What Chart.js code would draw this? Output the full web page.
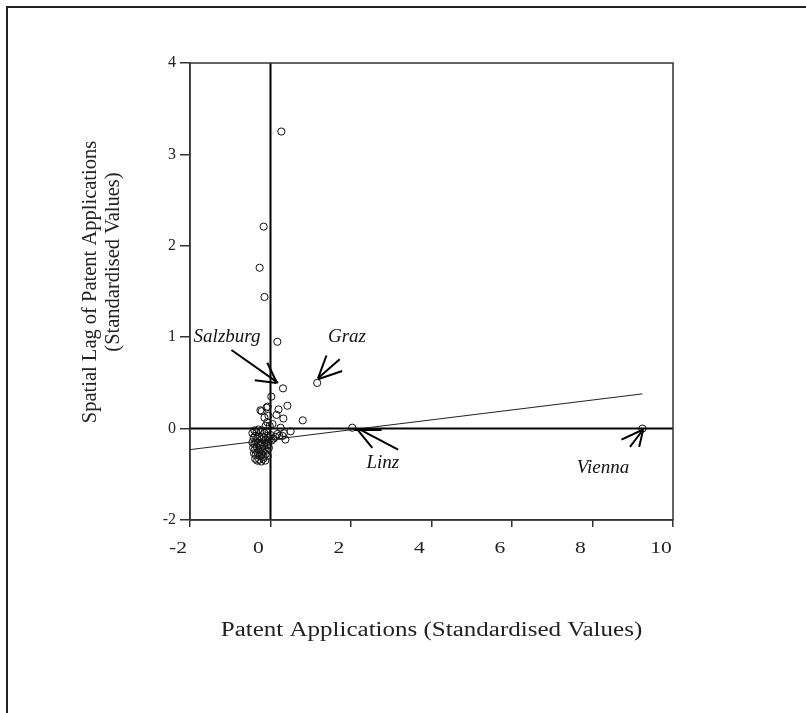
<!DOCTYPE html>
<html>
<head>
<meta charset="utf-8">
<script src="https://cdn.jsdelivr.net/npm/chart.js@4.4.1/dist/chart.umd.min.js"></script>
<style>
  html, body { margin: 0; padding: 0; background: #fff; }
  #wrap { width: 806px; height: 713px; }
</style>
</head>
<body>
<div id="wrap"><canvas id="myChart" width="806" height="713"></canvas></div>
<script>
// patent applications per district (standardised) and their spatial lag
const patApps = [
  0.27, -0.17, -0.27, -0.15, 0.17, 0.31, 1.16, 2.03, 9.24,
  0.02, 0.42, -0.22, -0.25, -0.10, -0.07, 0.20, 0.15, -0.15, -0.05, 0.32, -0.08, 0.80, 0.25, 0.50, -0.02, 0.05, -0.12,
  0.17, 0.22, 0.37, 0.30, 0.12, 0.08, 0.00, 0.03, -0.05, 0.33,
  -0.45, -0.40, -0.35, -0.30, -0.25, -0.20, -0.15, -0.10,
  -0.42, -0.38, -0.33, -0.28, -0.22, -0.17, -0.12, -0.07, -0.02,
  -0.45, -0.40, -0.36, -0.31, -0.26, -0.21, -0.16, -0.11, -0.06,
  -0.43, -0.39, -0.34, -0.29, -0.24, -0.19, -0.14, -0.09, -0.04,
  -0.41, -0.37, -0.32, -0.27, -0.22, -0.17, -0.12, -0.07,
  -0.38, -0.33, -0.28, -0.23, -0.18, -0.13
];
const patLag = [
  3.25, 2.21, 1.76, 1.44, 0.95, 0.44, 0.50, 0.01, 0.00,
  0.35, 0.25, 0.19, 0.20, 0.23, 0.24, 0.21, 0.15, 0.12, 0.14, 0.11, 0.07, 0.09, 0.01, -0.03, 0.03, 0.05, 0.03,
  -0.06, -0.08, -0.12, -0.08, -0.09, -0.11, -0.07, -0.13, -0.10, -0.05,
  -0.05, -0.02, -0.04, -0.01, -0.03, -0.02, -0.05, -0.03,
  -0.10, -0.08, -0.11, -0.09, -0.12, -0.10, -0.13, -0.08, -0.12,
  -0.15, -0.17, -0.14, -0.16, -0.18, -0.15, -0.19, -0.16, -0.18,
  -0.21, -0.23, -0.20, -0.24, -0.22, -0.25, -0.22, -0.24, -0.21,
  -0.27, -0.29, -0.26, -0.30, -0.28, -0.31, -0.28, -0.30,
  -0.33, -0.35, -0.34, -0.36, -0.33, -0.35
];
// fitted regression line (Moran scatterplot slope)
const fitX = [-2, 9.24];
const fitY = [-0.23, 0.38];
// the reference labels its lowest y tick "-2"
const yTickVals = [-1, 0, 1, 2, 3, 4];
const yTickLabels = ["-2", "0", "1", "2", "3", "4"];
const xTitle = "Patent Applications (Standardised Values)";
const yTitle = ["Spatial Lag of Patent Applications", "(Standardised Values)"];

const serif = "'Liberation Serif', 'Times New Roman', serif";

// city labels and their arrows, in data units
const cities = [
  { name: "Salzburg", x: -1.08, y: 1.00,
    arrows: [[-0.97, 0.86, 0.19, 0.50], [-0.08, 0.72, 0.15, 0.51], [-0.39, 0.53, 0.15, 0.50]] },
  { name: "Graz", x: 1.90, y: 1.00,
    arrows: [[1.39, 0.80, 1.18, 0.55], [1.72, 0.76, 1.18, 0.55], [1.78, 0.63, 1.18, 0.54]] },
  { name: "Linz", x: 2.79, y: -0.38,
    arrows: [[2.14, 0.00, 2.53, -0.21], [2.18, 0.00, 3.17, -0.23], [2.10, -0.01, 2.76, -0.01]] },
  { name: "Vienna", x: 8.26, y: -0.43,
    arrows: [[9.26, -0.01, 8.72, -0.12], [9.26, -0.01, 8.93, -0.20], [9.26, -0.01, 9.16, -0.20]] },
];

// the original print is a bit wider than tall, so x text gets stretched
function wideText(c, text, x, y, sx, rot) {
  c.save();
  c.translate(x, y);
  if (rot) c.rotate(rot);
  c.scale(sx, 1);
  c.fillText(text, 0, 0);
  c.restore();
}

const framePlugin = {
  id: "frame",
  beforeDraw(chart) {
    const c = chart.ctx;
    c.save();
    c.fillStyle = "#fff";
    c.fillRect(0, 0, chart.width, chart.height);
    c.strokeStyle = "#222";
    c.lineWidth = 2;
    c.beginPath();
    c.moveTo(7, chart.height);
    c.lineTo(7, 7);
    c.lineTo(chart.width, 7);
    c.stroke();
    c.restore();
  },
  afterDatasetsDraw(chart) {
    const c = chart.ctx;
    const a = chart.chartArea;
    const xs = chart.scales.x;
    const ys = chart.scales.y;
    c.save();
    c.strokeStyle = "#333";
    c.lineWidth = 1.5;
    c.strokeRect(a.left, a.top, a.right - a.left, a.bottom - a.top);

    c.strokeStyle = "#000";
    c.fillStyle = "#111";
    c.font = "italic 19px " + serif;
    c.textAlign = "center";
    c.textBaseline = "middle";
    cities.forEach((city) => {
      city.arrows.forEach((seg, i) => {
        c.lineWidth = city.name === "Linz" && i === 2 ? 3 : 2;
        c.beginPath();
        c.moveTo(xs.getPixelForValue(seg[0]), ys.getPixelForValue(seg[1]));
        c.lineTo(xs.getPixelForValue(seg[2]), ys.getPixelForValue(seg[3]));
        c.stroke();
      });
      c.fillText(city.name, xs.getPixelForValue(city.x), ys.getPixelForValue(city.y));
    });

    // x tick labels
    c.fillStyle = "#222";
    c.font = "16px " + serif;
    xs.ticks.forEach((t) => {
      wideText(c, String(t.value), xs.getPixelForValue(t.value) - 12, a.bottom + 29, 1.35);
    });
    // axis titles
    c.font = "20px " + serif;
    wideText(c, xTitle, (a.left + a.right) / 2, 631, 1.25);
    c.font = "20.5px " + serif;
    wideText(c, yTitle[0], 91, 282, 1, -Math.PI / 2);
    wideText(c, yTitle[1], 114, 262, 1, -Math.PI / 2);
    c.restore();
  },
};

const ctx = document.getElementById("myChart");
new Chart(ctx, {
  type: "scatter",
  data: {
    datasets: [
      {
        label: "Districts",
        data: patApps.map((v, i) => ({ x: v, y: patLag[i] })),
        pointRadius: 3.6,
        borderWidth: 1,
        borderColor: "#111",
        backgroundColor: "rgba(0,0,0,0)",
      },
      {
        label: "Fit",
        type: "line",
        data: fitX.map((v, i) => ({ x: v, y: fitY[i] })),
        borderColor: "#222",
        borderWidth: 1,
        pointRadius: 0,
      },
      {
        label: "zero x",
        type: "line",
        data: [{ x: -2, y: 0 }, { x: 10, y: 0 }],
        borderColor: "#000",
        borderWidth: 2,
        pointRadius: 0,
      },
      {
        label: "zero y",
        type: "line",
        data: [{ x: 0, y: -1 }, { x: 0, y: 4 }],
        borderColor: "#000",
        borderWidth: 2,
        pointRadius: 0,
      },
    ],
  },
  options: {
    responsive: false,
    animation: false,
    layout: { padding: { left: 78, top: 63, right: 133, bottom: 70 } },
    plugins: { legend: { display: false }, tooltip: { enabled: false } },
    scales: {
      x: {
        type: "linear",
        min: -2,
        max: 10,
        ticks: { stepSize: 2, display: false },
        grid: { drawOnChartArea: false, tickLength: 7, color: "#333", lineWidth: 1.5 },
        border: { color: "#333", width: 1.5 },
        afterFit(scale) {
          scale.height = 123;
        },
      },
      y: {
        type: "linear",
        min: -1,
        max: 4,
        afterBuildTicks(scale) {
          scale.ticks = yTickVals.map((v) => ({ value: v }));
        },
        ticks: {
          color: "#222",
          font: { family: serif, size: 16 },
          padding: 4,
          callback: (v, i) => yTickLabels[i],
        },
        grid: { drawOnChartArea: false, tickLength: 10, color: "#333", lineWidth: 1.5 },
        border: { color: "#333", width: 1.5 },
        afterFit(scale) {
          scale.width = 112;
        },
      },
    },
  },
  plugins: [framePlugin],
});
</script>
</body>
</html>
